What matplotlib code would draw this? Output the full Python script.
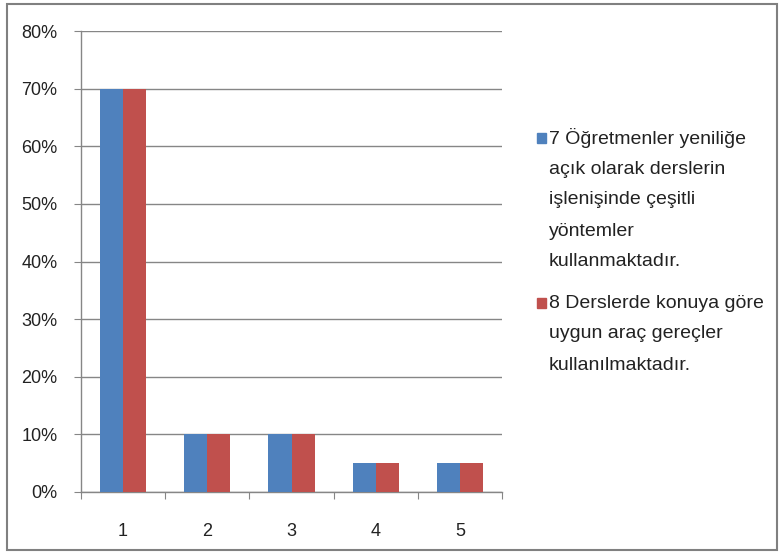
import numpy as np
import matplotlib.pyplot as plt
from matplotlib.patches import Rectangle
from matplotlib.ticker import FixedLocator, NullFormatter

plt.rcParams['font.family'] = ['Liberation Sans Narrow', 'Liberation Sans', 'DejaVu Sans']

# data
categories = ['1', '2', '3', '4', '5']
madde7 = [70, 10, 10, 5, 5]
madde8 = [70, 10, 10, 5, 5]
ytick_vals = [0, 10, 20, 30, 40, 50, 60, 70, 80]

legend7 = ['7 Öğretmenler yeniliğe', 'açık olarak derslerin', 'işlenişinde çeşitli',
           'yöntemler', 'kullanmaktadır.']
legend8 = ['8 Derslerde konuya göre', 'uygun araç gereçler', 'kullanılmaktadır.']

blue = '#4F81BD'
red = '#C0504D'
grey = '#868686'

W, H = 782, 556
fig = plt.figure(figsize=(W / 100, H / 100), dpi=100)
ax = fig.add_axes([81 / W, 1 - 492 / H, (502 - 81) / W, (492 - 31) / H])

x = np.arange(len(categories))
bw = 0.275
ax.bar(x - bw / 2, madde7, bw, color=blue, zorder=3)
ax.bar(x + bw / 2, madde8, bw, color=red, zorder=3)

ax.set_xlim(-0.5, len(categories) - 0.5)
ax.set_ylim(0, 80)

# x: tick marks on the category borders, labels at the centres
ax.xaxis.set_major_locator(FixedLocator(np.arange(len(categories) + 1) - 0.5))
ax.xaxis.set_major_formatter(NullFormatter())
ax.xaxis.set_minor_locator(FixedLocator(x))
ax.set_xticklabels(categories, minor=True)
ax.tick_params(axis='x', which='major', length=5, color=grey, direction='out')
ax.tick_params(axis='x', which='minor', length=0, pad=22, labelsize=13, labelcolor='#222222')

ax.set_yticks(ytick_vals)
ax.set_yticklabels([f'{v}%' for v in ytick_vals])
ax.tick_params(axis='y', length=5, color=grey, direction='out', pad=12, labelsize=13,
               labelcolor='#222222')

ax.yaxis.grid(True, color=grey, linewidth=1)
ax.set_axisbelow(True)
for s in ['top', 'right']:
    ax.spines[s].set_visible(False)
for s in ['left', 'bottom']:
    ax.spines[s].set_color(grey)
    ax.spines[s].set_linewidth(1)

# legend drawn by hand to keep the wrapped lines
def legend_entry(lines, color, y0):
    fig.patches.append(Rectangle((537 / W, 1 - (y0 + 5) / H), 9 / W, 10 / H,
                                 transform=fig.transFigure, color=color))
    for i, line in enumerate(lines):
        fig.text(549 / W, 1 - (y0 + 31 * i) / H, line, fontsize=14, va='center',
                 ha='left', color='#222222')

legend_entry(legend7, blue, 138)
legend_entry(legend8, red, 303)

# outer chart border
fig.patches.append(Rectangle((7 / W, 1 - 550 / H), 770 / W, 546 / H,
                             transform=fig.transFigure, fill=False,
                             edgecolor='#808080', linewidth=1.5))

fig.savefig('out.png', dpi=100)
